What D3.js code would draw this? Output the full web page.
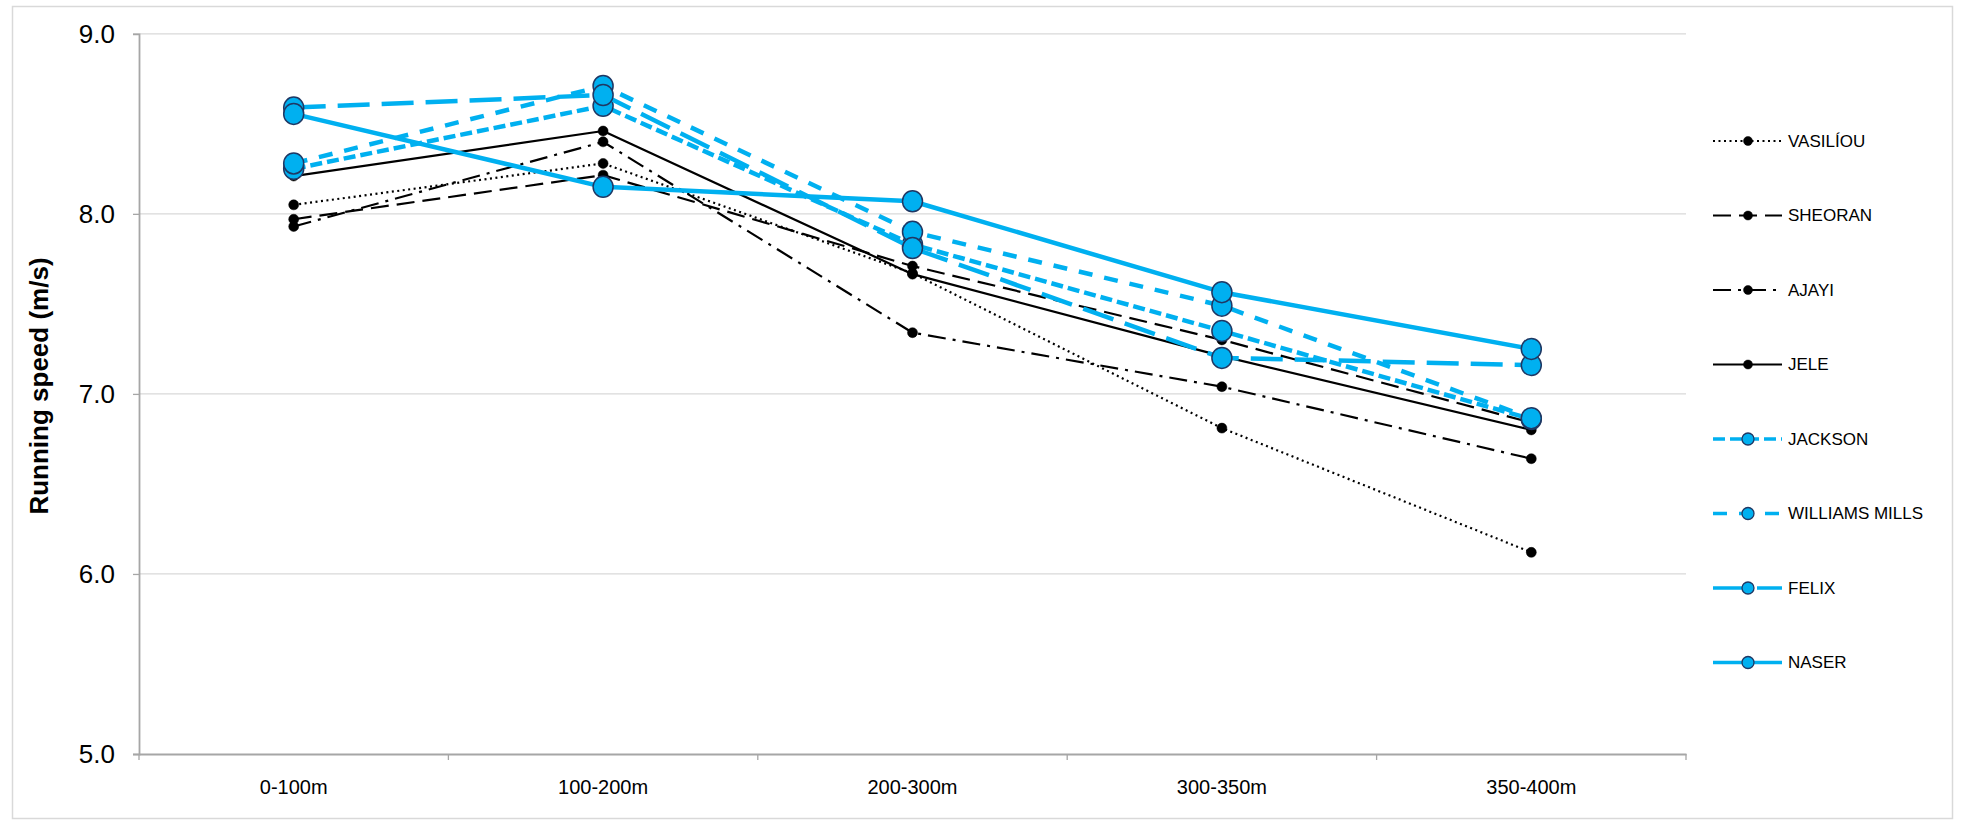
<!DOCTYPE html>
<html>
<head>
<meta charset="utf-8">
<script src="https://cdn.jsdelivr.net/npm/d3@7"></script>
<style>
  html, body { margin: 0; padding: 0; background: #fff; }
  svg { display: block; font-family: "Liberation Sans", Arial, sans-serif; }
</style>
</head>
<body>
<svg id="chart" width="1961" height="822"></svg>
<script>
// ---- data ----
const categories = ["0-100m", "100-200m", "200-300m", "300-350m", "350-400m"];
const yTicks = [5.0, 6.0, 7.0, 8.0, 9.0];
const seriesNames = ["VASILÍOU", "SHEORAN", "AJAYI", "JELE", "JACKSON", "WILLIAMS MILLS", "FELIX", "NASER"];
const vasiliou = [8.05, 8.28, 7.67, 6.81, 6.12];
const sheoran  = [7.97, 8.215, 7.71, 7.30, 6.84];
const ajayi    = [7.93, 8.40, 7.34, 7.04, 6.64];
const jele     = [8.21, 8.46, 7.665, 7.21, 6.80];
const jackson  = [8.25, 8.60, 7.83, 7.35, 6.86];
const williamsMills = [8.28, 8.71, 7.90, 7.49, 6.865];
const felix    = [8.59, 8.66, 7.81, 7.20, 7.16];
const naser    = [8.555, 8.15, 8.07, 7.565, 7.25];
const seriesValues = [vasiliou, sheoran, ajayi, jele, jackson, williamsMills, felix, naser];

// ---- styles ----
const BLUE = "#00B0F0";
const styles = [
  { color: "#000", width: 2.2, dash: "2,3.5", marker: "black" },
  { color: "#000", width: 2.2, dash: "18,8", marker: "black" },
  { color: "#000", width: 2.2, dash: "18,7,3,7", marker: "black" },
  { color: "#000", width: 2.2, dash: null, marker: "black" },
  { color: BLUE, width: 4.5, dash: "12,5", marker: "blue" },
  { color: BLUE, width: 4.5, dash: "14,12", marker: "blue" },
  { color: BLUE, width: 4.5, dash: "32,12", marker: "blue" },
  { color: BLUE, width: 4.5, dash: null, marker: "blue" }
];

const svg = d3.select("#chart");

// outer border
svg.append("rect").attr("x", 12.5).attr("y", 6.5).attr("width", 1940).attr("height", 812)
  .attr("fill", "none").attr("stroke", "#d9d9d9").attr("stroke-width", 1.5);

const plotLeft = 139, plotRight = 1686, plotTop = 33.8, plotBottom = 754;
const x = d3.scaleBand().domain(categories).range([plotLeft, plotRight]).padding(0);
const y = d3.scaleLinear().domain([5, 9]).range([plotBottom, plotTop]);

// gridlines
svg.append("g").selectAll("line").data(yTicks.filter(t => t > 5)).join("line")
  .attr("x1", plotLeft).attr("x2", plotRight)
  .attr("y1", d => y(d)).attr("y2", d => y(d))
  .attr("stroke", "#d9d9d9").attr("stroke-width", 1.3);

// y axis
const yAxis = svg.append("g").attr("transform", `translate(${plotLeft},0)`)
  .call(d3.axisLeft(y).tickValues(yTicks).tickFormat(d3.format(".1f")).tickSize(6).tickPadding(18));
yAxis.select(".domain").attr("stroke", "#a6a6a6").attr("stroke-width", 1.8);
yAxis.selectAll(".tick line").attr("stroke", "#a6a6a6").attr("stroke-width", 1.3);
yAxis.selectAll(".tick text").attr("font-size", 26).attr("fill", "#000")
  .attr("font-family", "Liberation Sans, Arial, sans-serif");

// x axis
const xAxis = svg.append("g").attr("transform", `translate(0,${plotBottom})`)
  .call(d3.axisBottom(x).tickSize(0).tickPadding(26));
xAxis.select(".domain").attr("stroke", "#a6a6a6").attr("stroke-width", 2);
xAxis.selectAll(".tick text").attr("font-size", 20).attr("fill", "#000")
  .attr("font-family", "Liberation Sans, Arial, sans-serif");
const edges = categories.map(c => x(c)).concat([x(categories[categories.length - 1]) + x.bandwidth()]);
svg.append("g").selectAll("line").data(edges).join("line")
  .attr("x1", d => d).attr("x2", d => d)
  .attr("y1", plotBottom).attr("y2", plotBottom + 6)
  .attr("stroke", "#a6a6a6").attr("stroke-width", 1.3);

// y title
svg.append("text")
  .attr("transform", `translate(39,386) rotate(-90)`)
  .attr("text-anchor", "middle").attr("dominant-baseline", "central")
  .attr("font-size", 26).attr("font-weight", "bold").attr("fill", "#000")
  .text("Running speed (m/s)");

// lines
const line = d3.line().x((d, i) => x(categories[i]) + x.bandwidth() / 2).y(d => y(d));
const seriesG = svg.append("g");
seriesValues.forEach((vals, si) => {
  const st = styles[si];
  const g = seriesG.append("g");
  g.append("path").datum(vals).attr("d", line)
    .attr("fill", "none").attr("stroke", st.color).attr("stroke-width", st.width)
    .attr("stroke-dasharray", st.dash).attr("stroke-linejoin", "round");
  g.selectAll("ellipse").data(vals).join("ellipse")
    .attr("cx", (d, i) => x(categories[i]) + x.bandwidth() / 2)
    .attr("cy", d => y(d))
    .attr("rx", st.marker === "blue" ? 10 : 5)
    .attr("ry", st.marker === "blue" ? 10.5 : 5)
    .attr("fill", st.marker === "blue" ? BLUE : "#000")
    .attr("stroke", st.marker === "blue" ? "#1F3864" : "#000")
    .attr("stroke-width", st.marker === "blue" ? 1.5 : 0.5);
});

// legend
const legX1 = 1713, legX2 = 1782, legMarkX = 1748, legTextX = 1788, legY0 = 141, legStep = 74.5;
const leg = svg.append("g");
seriesNames.forEach((name, i) => {
  const st = styles[i];
  const ly = legY0 + i * legStep;
  leg.append("line").attr("x1", legX1).attr("x2", legX2).attr("y1", ly).attr("y2", ly)
    .attr("stroke", st.color).attr("stroke-width", st.marker === "blue" ? 3.5 : 2)
    .attr("stroke-dasharray", st.dash);
  leg.append("circle").attr("cx", legMarkX).attr("cy", ly)
    .attr("r", st.marker === "blue" ? 6 : 4.5)
    .attr("fill", st.marker === "blue" ? BLUE : "#000")
    .attr("stroke", st.marker === "blue" ? "#1F3864" : "#000")
    .attr("stroke-width", st.marker === "blue" ? 1.3 : 0.5);
  leg.append("text").attr("x", legTextX).attr("y", ly).attr("dominant-baseline", "central")
    .attr("font-size", 17).attr("fill", "#000").text(name);
});
</script>
</body>
</html>
